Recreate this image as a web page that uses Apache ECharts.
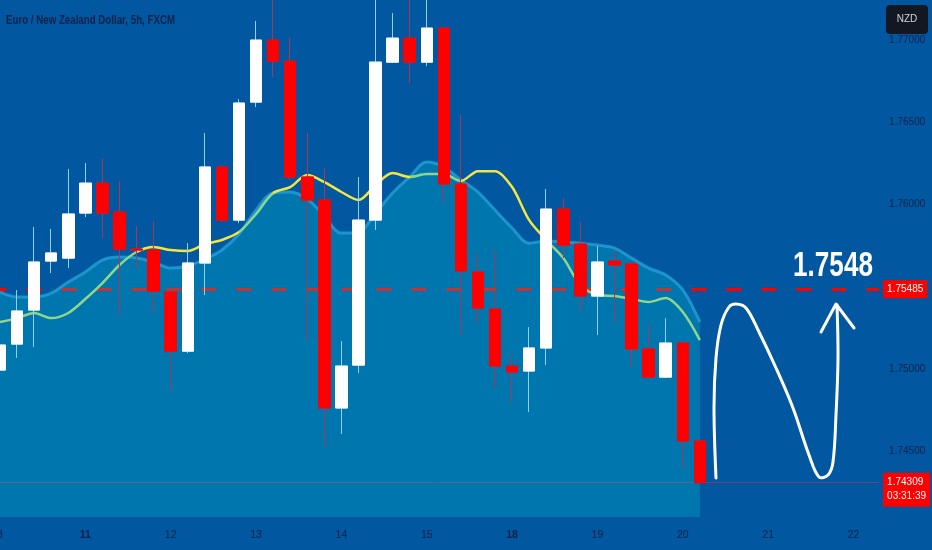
<!DOCTYPE html>
<html><head><meta charset="utf-8">
<script src="https://cdn.jsdelivr.net/npm/echarts@6/dist/echarts.min.js"></script>
<style>html,body{margin:0;padding:0;background:#0157a0;}#c{width:932px;height:550px;}</style>
</head><body><div id="c"></div>
<script>
// ---- data ----
const titleText = 'Euro / New Zealand Dollar, 5h, FXCM';
const currencyTag = 'NZD';
const dayLabels = ['8','11','12','13','14','15','18','19','20','21','22'];
const weekStartDays = ['11','18'];
const candlesPerDay = 5;
const slotCount = 52;
// [open, close, low, high]
const candles = [
  [1.74994,1.75146,1.74738,1.75237],
  [1.75152,1.75353,1.75067,1.75481],
  [1.75359,1.75651,1.75134,1.75864],
  [1.75657,1.75706,1.75584,1.75852],
  [1.75675,1.75943,1.75614,1.76217],
  [1.75949,1.76131,1.75925,1.76253],
  [1.76131,1.75949,1.75797,1.76283],
  [1.75955,1.75730,1.75328,1.76144],
  [1.75730,1.75724,1.75614,1.75870],
  [1.75724,1.75474,1.75341,1.75900],
  [1.75468,1.75109,1.74860,1.75499],
  [1.75109,1.75645,1.75097,1.75766],
  [1.75645,1.76229,1.75450,1.76436],
  [1.76229,1.75906,1.75894,1.76241],
  [1.75906,1.76618,1.75888,1.76642],
  [1.76624,1.77001,1.76594,1.77117],
  [1.77001,1.76873,1.76776,1.77400],
  [1.76873,1.76168,1.76150,1.77019],
  [1.76168,1.76028,1.75176,1.76436],
  [1.76028,1.74763,1.74526,1.76223],
  [1.74763,1.75018,1.74605,1.75170],
  [1.75024,1.75906,1.74976,1.76168],
  [1.75906,1.76867,1.75846,1.77400],
  [1.76867,1.77013,1.76861,1.77165],
  [1.77013,1.76867,1.76740,1.77400],
  [1.76867,1.77074,1.76843,1.77400],
  [1.77074,1.76125,1.76010,1.77080],
  [1.76125,1.75596,1.75207,1.76545],
  [1.75590,1.75371,1.75286,1.75706],
  [1.75365,1.75018,1.74884,1.75724],
  [1.75018,1.74982,1.74799,1.75085],
  [1.74988,1.75128,1.74738,1.75255],
  [1.75128,1.75973,1.75024,1.76095],
  [1.75973,1.75754,1.75675,1.76040],
  [1.75760,1.75444,1.75347,1.75894],
  [1.75444,1.75651,1.75207,1.75748],
  [1.75657,1.75633,1.75286,1.75724],
  [1.75639,1.75122,1.75012,1.75651],
  [1.75122,1.74951,1.74945,1.75280],
  [1.74951,1.75158,1.74945,1.75310],
  [1.75158,1.74562,1.74398,1.75170],
  [1.74562,1.74309,1.74309,1.74568]
];
const maLine = [1.75286,1.75310,1.75341,1.75310,1.75341,1.75426,1.75523,1.75633,1.75712,1.75742,
  1.75724,1.75718,1.75760,1.75785,1.75833,1.75943,1.76071,1.76107,1.76180,1.76137,
  1.76077,1.76028,1.76119,1.76192,1.76168,1.76186,1.76186,1.76144,1.76204,1.76204,
  1.76107,1.75906,1.75785,1.75675,1.75511,1.75450,1.75444,1.75426,1.75408,1.75432,
  1.75347,1.75176];
const cloudEdge = [1.75468,1.75438,1.75438,1.75462,1.75529,1.75590,1.75663,1.75681,1.75675,1.75651,
  1.75614,1.75627,1.75669,1.75724,1.75821,1.75967,1.76071,1.76077,1.76034,1.75931,
  1.75827,1.75833,1.75949,1.76071,1.76168,1.76259,1.76229,1.76150,1.76077,1.75967,
  1.75858,1.75766,1.75779,1.75773,1.75766,1.75754,1.75736,1.75675,1.75614,1.75572,
  1.75481,1.75286];
const resistanceLevel = 1.75485;
const targetLabel = '1.7548';
const lastPrice = 1.74309;
const countdown = '03:31:39';
const yTickValues = [1.745, 1.75, 1.76, 1.765, 1.77];
const yMin = 1.741, yMax = 1.77245;

// ---- build ----
const FONT = '"Liberation Sans",Arial,sans-serif';
const NAVY = '#0f2147';
const YELLOW = '#f4e641', GREEN = '#8fd68a';

function narrowScale(text, size, weight, targetWidth) {
  const ctx = document.createElement('canvas').getContext('2d');
  ctx.font = weight + ' ' + size + 'px ' + FONT;
  return targetWidth / ctx.measureText(text).width;
}

const categories = [];
dayLabels.forEach(d => { for (let k = 0; k < candlesPerDay; k++) categories.push(k === 0 ? d : d + '#' + k); });
categories.length = slotCount;

const bodies = candles.map(c => [c[0], c[1], Math.min(c[0], c[1]), Math.max(c[0], c[1])]);

const pieces = [];
const diff = maLine.map((v, i) => v - cloudEdge[i]);
let start = -1, cur = diff[0] > 0;
for (let i = 0; i < diff.length - 1; i++) {
  const a = diff[i], b = diff[i + 1];
  if ((a > 0) !== (b > 0)) {
    const t = i + a / (a - b);
    pieces.push({ gte: start, lt: t, color: cur ? YELLOW : GREEN });
    start = t; cur = !cur;
  }
}
pieces.push({ gte: start, lte: slotCount + 1, color: cur ? YELLOW : GREEN });

const bandW = 17.07;
const chart = echarts.init(document.getElementById('c'));
chart.setOption({
  animation: false,
  backgroundColor: '#0157a0',
  textStyle: { fontFamily: FONT },
  grid: { left: -bandW / 2, top: 0, width: bandW * slotCount, height: 517, containLabel: false, outerBoundsMode: 'none' },
  xAxis: {
    type: 'category', data: categories, boundaryGap: true,
    axisLine: { show: false }, axisTick: { show: false }, splitLine: { show: false },
    axisLabel: {
      interval: candlesPerDay - 1, showMinLabel: true, margin: 13, color: NAVY, fontSize: 10.5, fontFamily: FONT,
      formatter: v => { const d = v.split('#')[0]; return weekStartDays.includes(d) ? '{b|' + d + '}' : d; },
      rich: { b: { fontWeight: 'bold', color: NAVY, fontSize: 10.5, fontFamily: FONT } }
    }
  },
  yAxis: {
    type: 'value', position: 'right', min: yMin, max: yMax,
    axisLine: { show: false }, axisTick: { show: false }, splitLine: { show: false },
    axisLabel: { customValues: yTickValues, formatter: v => v.toFixed(5), color: NAVY, fontSize: 10, margin: 10, fontFamily: FONT }
  },
  visualMap: { type: 'piecewise', show: false, dimension: 0, seriesIndex: 2, pieces: pieces },
  series: [
    {
      type: 'line', name: 'levels', data: cloudEdge, z: 1, silent: true, showSymbol: false,
      lineStyle: { width: 0, color: 'rgba(0,0,0,0)' },
      markLine: {
        z: 1, silent: true, symbol: ['none', 'none'], animation: false, precision: 5,
        data: [
          { yAxis: lastPrice, lineStyle: { color: 'rgba(170,55,90,0.65)', width: 1, type: 'solid' },
            label: { show: true, position: 'end', distance: 4, formatter: lastPrice.toFixed(5) + '\n' + countdown,
              backgroundColor: '#ff0000', color: '#ffffff', fontSize: 10, lineHeight: 14, padding: [3, 4, 3, 4], offset: [0, 7], fontFamily: FONT } },
          { yAxis: resistanceLevel, lineStyle: { color: '#ff0000', width: 3, type: [15, 20] },
            label: { show: true, position: 'end', distance: 4, formatter: resistanceLevel.toFixed(5),
              backgroundColor: '#ff0000', color: '#ffffff', fontSize: 10, padding: [4, 4, 4, 4], fontFamily: FONT } }
        ]
      }
    },
    {
      type: 'line', name: 'cloud', data: cloudEdge, smooth: 0.35, showSymbol: false, z: 2, silent: true,
      lineStyle: { color: 'rgba(35,160,215,0.8)', width: 3 },
      areaStyle: { color: 'rgba(0,216,221,0.35)', origin: 'start' }
    },
    {
      type: 'line', name: 'ma', data: maLine, smooth: 0.3, showSymbol: false, z: 3, silent: true,
      lineStyle: { width: 2.5 }
    },
    {
      type: 'candlestick', name: 'wicks', data: candles, barWidth: 12, z: 4, silent: true,
      itemStyle: { color: 'rgba(0,0,0,0)', color0: 'rgba(0,0,0,0)', borderColor: '#8fd0f0', borderColor0: '#a03a55', borderWidth: 1 }
    },
    {
      type: 'candlestick', name: 'bodies', data: bodies, barWidth: 12, z: 5, silent: true,
      itemStyle: { color: '#ffffff', color0: '#ff0000', borderColor: '#ffffff', borderColor0: '#ff0000', borderWidth: 1 }
    }
  ]
});

// annotations positioned through the axis scale
const levelY = chart.convertToPixel({ yAxisIndex: 0 }, resistanceLevel);
const titleScale = narrowScale(titleText, 13, 'bold', 169);
const bigScale = narrowScale(targetLabel, 35, 'bold', 80);
chart.setOption({
  graphic: [
    { type: 'text', x: 6, y: 20, scaleX: titleScale, z: 100, silent: true,
      style: { text: titleText, fill: '#13214a', fontSize: 13, fontWeight: 'bold', fontFamily: FONT, align: 'left', verticalAlign: 'middle' } },
    { type: 'text', x: 873, y: levelY - 23, scaleX: bigScale, z: 100, silent: true,
      style: { text: targetLabel, fill: '#ffffff', fontSize: 35, fontWeight: 'bold', fontFamily: FONT, align: 'right', verticalAlign: 'middle' } },
    { type: 'group', z: 100, children: [
      { type: 'rect', shape: { x: 886, y: 5, width: 42, height: 29, r: 4 }, style: { fill: '#131722' } },
      { type: 'text', x: 907, y: 19.5, style: { text: currencyTag, fill: '#d1d4dc', fontSize: 10, fontFamily: FONT, align: 'center', verticalAlign: 'middle' } }
    ]},
    { type: 'polyline', z: 90, silent: true,
      shape: { smooth: 0.35, points: [[716,478],[714,408],[716,358],[721,325],[729,307],[736,304],[746,308],[759,332],[776,368],[793,408],[809,455],[819,477],[828,475],[833,462],[836,415],[838,358],[837,305]] },
      style: { stroke: '#ffffff', lineWidth: 3, fill: null, lineCap: 'round' } },
    { type: 'polyline', z: 90, silent: true,
      shape: { points: [[821,332],[836,304],[854,328]] },
      style: { stroke: '#ffffff', lineWidth: 3, fill: null, lineCap: 'round', lineJoin: 'round' } }
  ]
});
</script></body></html>
